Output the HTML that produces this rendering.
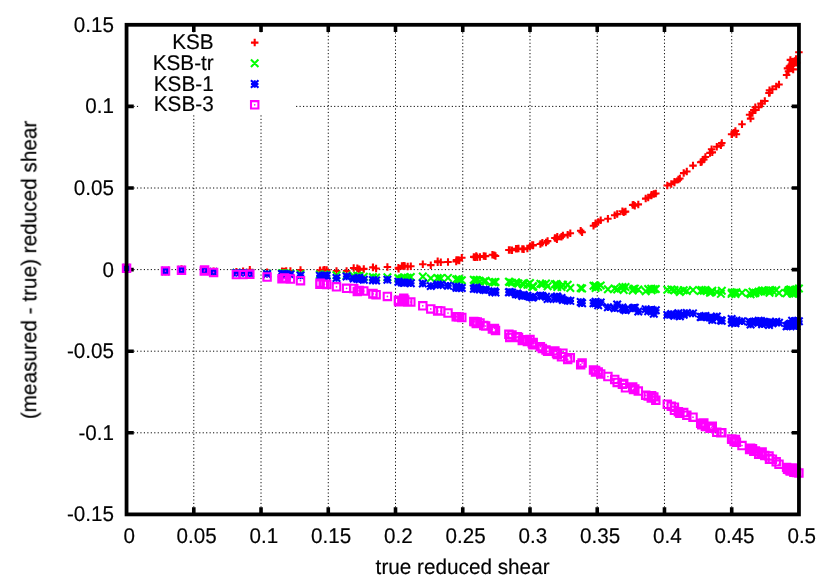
<!DOCTYPE html>
<html><head><meta charset="utf-8"><title>KSB shear</title>
<style>html,body{margin:0;padding:0;background:#fff;}body{width:830px;height:581px;overflow:hidden;font-family:"Liberation Sans",sans-serif;}svg{display:block;}</style>
</head><body>
<svg width="830" height="581" viewBox="0 0 830 581">
<rect width="830" height="581" fill="#fff"/>
<path d="M193.79 514.4V24.8M261.03 514.4V24.8M328.27 514.4V24.8M395.51 514.4V24.8M462.75 514.4V24.8M529.99 514.4V24.8M597.23 514.4V24.8M664.47 514.4V24.8M731.71 514.4V24.8M126.55 432.80H798.95M126.55 351.20H798.95M126.55 269.60H798.95M126.55 188.00H798.95M126.55 106.40H798.95" stroke="#000" stroke-width="1" stroke-dasharray="1.15 2.31" fill="none"/>
<rect x="139" y="32.5" width="156" height="82" fill="#fff"/>
<path d="M193.79 514.4v-7.2M193.79 24.8v7.2M261.03 514.4v-7.2M261.03 24.8v7.2M328.27 514.4v-7.2M328.27 24.8v7.2M395.51 514.4v-7.2M395.51 24.8v7.2M462.75 514.4v-7.2M462.75 24.8v7.2M529.99 514.4v-7.2M529.99 24.8v7.2M597.23 514.4v-7.2M597.23 24.8v7.2M664.47 514.4v-7.2M664.47 24.8v7.2M731.71 514.4v-7.2M731.71 24.8v7.2M126.55 432.80h7.2M798.95 432.80h-7.2M126.55 351.20h7.2M798.95 351.20h-7.2M126.55 269.60h7.2M798.95 269.60h-7.2M126.55 188.00h7.2M798.95 188.00h-7.2M126.55 106.40h7.2M798.95 106.40h-7.2" stroke="#000" stroke-width="3.6" fill="none"/>
<g font-family="Liberation Sans, sans-serif" font-size="21.31px" fill="#000" stroke="#000" stroke-width="0.18" opacity="0.995" style="text-rendering:geometricPrecision">
<text transform="translate(114.00 521.45) scale(0.968 1)" text-anchor="end">-0.15</text>
<text transform="translate(114.00 439.85) scale(0.968 1)" text-anchor="end">-0.1</text>
<text transform="translate(114.00 358.25) scale(0.968 1)" text-anchor="end">-0.05</text>
<text transform="translate(114.00 276.65) scale(0.968 1)" text-anchor="end">0</text>
<text transform="translate(114.00 195.05) scale(0.968 1)" text-anchor="end">0.05</text>
<text transform="translate(114.00 113.45) scale(0.968 1)" text-anchor="end">0.1</text>
<text transform="translate(114.00 31.85) scale(0.968 1)" text-anchor="end">0.15</text>
<text transform="translate(129.35 543.00) scale(0.968 1)" text-anchor="middle">0</text>
<text transform="translate(196.59 543.00) scale(0.968 1)" text-anchor="middle">0.05</text>
<text transform="translate(263.83 543.00) scale(0.968 1)" text-anchor="middle">0.1</text>
<text transform="translate(331.07 543.00) scale(0.968 1)" text-anchor="middle">0.15</text>
<text transform="translate(398.31 543.00) scale(0.968 1)" text-anchor="middle">0.2</text>
<text transform="translate(465.55 543.00) scale(0.968 1)" text-anchor="middle">0.25</text>
<text transform="translate(532.79 543.00) scale(0.968 1)" text-anchor="middle">0.3</text>
<text transform="translate(600.03 543.00) scale(0.968 1)" text-anchor="middle">0.35</text>
<text transform="translate(667.27 543.00) scale(0.968 1)" text-anchor="middle">0.4</text>
<text transform="translate(734.51 543.00) scale(0.968 1)" text-anchor="middle">0.45</text>
<text transform="translate(801.75 543.00) scale(0.968 1)" text-anchor="middle">0.5</text>
<text transform="translate(462.60 574.10) scale(0.973 1)" text-anchor="middle">true reduced shear</text>
<text transform="translate(36.30 269.90) rotate(-90) scale(0.9735 1)" text-anchor="middle">(measured - true) reduced shear</text>
<text transform="translate(213.70 49.20) scale(0.973 1)" text-anchor="end">KSB</text>
<text transform="translate(213.70 69.90) scale(0.973 1)" text-anchor="end">KSB-tr</text>
<text transform="translate(213.70 90.60) scale(0.973 1)" text-anchor="end">KSB-1</text>
<text transform="translate(213.70 111.40) scale(0.973 1)" text-anchor="end">KSB-3</text>
</g>
<path d="M250.95 42.60H258.45M254.70 38.85V46.35M122.80 268.42H130.30M126.55 264.67V272.17M161.75 271.45H169.25M165.50 267.70V275.20M177.75 268.99H185.25M181.50 265.24V272.74M200.55 270.24H208.05M204.30 266.49V273.99M200.85 269.95H208.35M204.60 266.20V273.70M209.85 271.19H217.35M213.60 267.44V274.94M232.65 271.85H240.15M236.40 268.10V275.60M239.35 271.17H246.85M243.10 267.42V274.92M246.05 269.77H253.55M249.80 266.02V273.52M263.35 272.21H270.85M267.10 268.46V275.96M278.25 271.33H285.75M282.00 267.58V275.08M279.31 271.42H286.81M283.06 267.67V275.17M280.86 271.60H288.36M284.61 267.85V275.35M282.45 270.98H289.95M286.20 267.23V274.73M286.65 270.96H294.15M290.40 267.21V274.71M296.75 270.05H304.25M300.50 266.30V273.80M316.15 270.81H323.65M319.90 267.06V274.56M316.39 270.19H323.89M320.14 266.44V273.94M319.55 270.17H327.05M323.30 266.42V273.92M320.67 269.83H328.17M324.42 266.08V273.58M322.95 270.12H330.45M326.70 266.37V273.87M332.75 270.93H340.25M336.50 267.18V274.68M342.85 270.94H350.35M346.60 267.19V274.69M349.95 268.08H357.45M353.70 264.33V271.83M353.56 268.31H361.06M357.31 264.56V272.06M355.38 269.13H362.88M359.13 265.38V272.88M355.85 269.72H363.35M359.60 265.97V273.47M360.05 268.89H367.55M363.80 265.14V272.64M369.16 267.55H376.66M372.91 263.80V271.30M369.25 267.24H376.75M373.00 263.49V270.99M372.35 268.48H379.85M376.10 264.73V272.23M383.65 266.93H391.15M387.40 263.18V270.68M394.65 267.74H402.15M398.40 263.99V271.49M394.84 268.63H402.34M398.59 264.88V272.38M398.15 265.95H405.65M401.90 262.20V269.70M399.99 265.80H407.49M403.74 262.05V269.55M400.95 266.01H408.45M404.70 262.26V269.76M403.95 266.62H411.45M407.70 262.87V270.37M407.05 266.20H414.55M410.80 262.45V269.95M419.05 264.31H426.55M422.80 260.56V268.06M427.05 265.16H434.55M430.80 261.41V268.91M433.91 262.29H441.41M437.66 258.54V266.04M433.95 261.22H441.45M437.70 257.47V264.97M437.05 262.24H444.55M440.80 258.49V265.99M444.25 262.08H451.75M448.00 258.33V265.83M452.45 261.46H459.95M456.20 257.71V265.21M452.71 260.12H460.21M456.46 256.37V263.87M454.78 260.06H462.28M458.53 256.31V263.81M455.55 260.52H463.05M459.30 256.77V264.27M458.05 257.69H465.55M461.80 253.94V261.44M470.05 256.91H477.55M473.80 253.16V260.66M471.29 257.33H478.79M475.04 253.58V261.08M472.52 255.99H480.02M476.27 252.24V259.74M473.55 257.31H481.05M477.30 253.56V261.06M476.25 256.88H483.75M480.00 253.13V260.63M480.00 256.12H487.50M483.75 252.37V259.87M481.85 256.16H489.35M485.60 252.41V259.91M488.65 254.82H496.15M492.40 251.07V258.57M490.67 255.21H498.17M494.42 251.46V258.96M491.75 256.07H499.25M495.50 252.32V259.82M505.15 249.97H512.65M508.90 246.22V253.72M506.01 249.95H513.51M509.76 246.20V253.70M508.25 250.32H515.75M512.00 246.57V254.07M512.25 248.80H519.75M516.00 245.05V252.55M513.45 248.81H520.95M517.20 245.06V252.56M514.73 248.45H522.23M518.48 244.70V252.20M518.55 248.97H526.05M522.30 245.22V252.72M519.22 249.06H526.72M522.97 245.31V252.81M519.95 249.20H527.45M523.70 245.45V252.95M523.65 248.40H531.15M527.40 244.65V252.15M526.23 246.17H533.73M529.98 242.42V249.92M528.45 245.06H535.95M532.20 241.31V248.81M529.16 245.51H536.66M532.91 241.76V249.26M529.45 245.10H536.95M533.20 241.35V248.85M536.65 244.00H544.15M540.40 240.25V247.75M538.61 242.78H546.11M542.36 239.03V246.53M542.25 242.60H549.75M546.00 238.85V246.35M543.85 241.10H551.35M547.60 237.35V244.85M551.15 238.00H558.65M554.90 234.25V241.75M552.73 238.33H560.23M556.48 234.58V242.08M553.16 239.18H560.66M556.91 235.43V242.93M553.55 236.80H561.05M557.30 233.05V240.55M557.75 236.80H565.25M561.50 233.05V240.55M559.15 235.40H566.65M562.90 231.65V239.15M563.95 234.70H571.45M567.70 230.95V238.45M566.55 233.30H574.05M570.30 229.55V237.05M576.95 230.80H584.45M580.70 227.05V234.55M578.35 232.30H585.85M582.10 228.55V236.05M589.75 225.70H597.25M593.50 221.95V229.45M591.75 224.00H599.25M595.50 220.25V227.75M591.86 223.31H599.36M595.61 219.56V227.06M594.45 221.90H601.95M598.20 218.15V225.65M596.95 220.30H604.45M600.70 216.55V224.05M604.15 218.80H611.65M607.90 215.05V222.55M610.95 215.30H618.45M614.70 211.55V219.05M613.45 214.10H620.95M617.20 210.35V217.85M618.65 211.20H626.15M622.40 207.45V214.95M619.95 212.14H627.45M623.70 208.39V215.89M621.75 211.60H629.25M625.50 207.85V215.35M628.95 205.00H636.45M632.70 201.25V208.75M629.77 204.72H637.27M633.52 200.97V208.47M631.05 205.80H638.55M634.80 202.05V209.55M634.55 204.40H642.05M638.30 200.65V208.15M641.95 198.60H649.45M645.70 194.85V202.35M644.45 197.60H651.95M648.20 193.85V201.35M647.55 195.50H655.05M651.30 191.75V199.25M647.87 194.75H655.37M651.62 191.00V198.50M650.05 194.10H657.55M653.80 190.35V197.85M652.05 193.50H659.55M655.80 189.75V197.25M663.55 185.50H671.05M667.30 181.75V189.25M667.55 183.90H675.05M671.30 180.15V187.65M670.65 182.40H678.15M674.40 178.65V186.15M670.74 181.64H678.24M674.49 177.89V185.39M674.65 179.60H682.15M678.40 175.85V183.35M676.09 178.57H683.59M679.84 174.82V182.32M679.95 173.10H687.45M683.70 169.35V176.85M683.05 171.50H690.55M686.80 167.75V175.25M689.25 165.60H696.75M693.00 161.85V169.35M696.95 162.20H704.45M700.70 158.45V165.95M698.01 161.82H705.51M701.76 158.07V165.57M700.05 159.50H707.55M703.80 155.75V163.25M701.65 157.00H709.15M705.40 153.25V160.75M706.25 152.90H713.75M710.00 149.15V156.65M707.85 149.20H715.35M711.60 145.45V152.95M708.54 152.37H716.04M712.29 148.62V156.12M713.05 146.80H720.55M716.80 143.05V150.55M717.15 145.20H724.65M720.90 141.45V148.95M718.05 143.00H725.55M721.80 139.25V146.75M727.85 134.20H735.35M731.60 130.45V137.95M728.21 134.25H735.71M731.96 130.50V138.00M730.35 132.80H737.85M734.10 129.05V136.55M731.65 130.90H739.15M735.40 127.15V134.65M732.65 134.20H740.15M736.40 130.45V137.95M738.25 124.30H745.75M742.00 120.55V128.05M745.85 114.80H753.35M749.60 111.05V118.55M746.85 118.60H754.35M750.60 114.85V122.35M748.75 112.90H756.25M752.50 109.15V116.65M750.05 110.10H757.55M753.80 106.35V113.85M751.55 107.30H759.05M755.30 103.55V111.05M751.73 110.04H759.23M755.48 106.29V113.79M754.95 107.30H762.45M758.70 103.55V111.05M757.25 103.50H764.75M761.00 99.75V107.25M758.38 103.45H765.88M762.13 99.70V107.20M761.05 101.00H768.55M764.80 97.25V104.75M765.25 93.00H772.75M769.00 89.25V96.75M765.75 90.20H773.25M769.50 86.45V93.95M765.96 92.80H773.46M769.71 89.05V96.55M768.65 89.30H776.15M772.40 85.55V93.05M772.45 86.40H779.95M776.20 82.65V90.15M775.25 84.50H782.75M779.00 80.75V88.25M782.85 75.00H790.35M786.60 71.25V78.75M783.75 68.40H791.25M787.50 64.65V72.15M784.75 71.30H792.25M788.50 67.55V75.05M785.65 66.50H793.15M789.40 62.75V70.25M786.42 67.27H793.92M790.17 63.52V71.02M786.60 67.77H794.10M790.35 64.02V71.52M786.65 59.90H794.15M790.40 56.15V63.65M787.55 64.60H795.05M791.30 60.85V68.35M788.40 63.78H795.90M792.15 60.03V67.53M788.55 61.80H796.05M792.30 58.05V65.55M789.45 69.40H796.95M793.20 65.65V73.15M790.10 63.35H797.60M793.85 59.60V67.10M791.35 62.70H798.85M795.10 58.95V66.45M791.57 60.74H799.07M795.32 56.99V64.49M792.25 58.90H799.75M796.00 55.15V62.65M792.80 62.79H800.30M796.55 59.04V66.54M795.15 52.30H802.65M798.90 48.55V56.05" stroke="#ff0000" stroke-width="2.08" fill="none"/>
<path d="M250.95 59.55L258.45 67.05M250.95 67.05L258.45 59.55M122.80 264.36L130.30 271.86M122.80 271.86L130.30 264.36M161.75 267.32L169.25 274.82M161.75 274.82L169.25 267.32M177.75 266.16L185.25 273.66M177.75 273.66L185.25 266.16M200.55 266.73L208.05 274.23M200.55 274.23L208.05 266.73M200.85 266.92L208.35 274.42M200.85 274.42L208.35 266.92M209.85 268.18L217.35 275.68M209.85 275.68L217.35 268.18M232.65 269.00L240.15 276.50M232.65 276.50L240.15 269.00M239.35 269.34L246.85 276.84M239.35 276.84L246.85 269.34M246.05 269.54L253.55 277.04M246.05 277.04L253.55 269.54M263.35 270.11L270.85 277.61M263.35 277.61L270.85 270.11M278.25 269.57L285.75 277.07M278.25 277.07L285.75 269.57M279.31 269.82L286.81 277.32M279.31 277.32L286.81 269.82M280.86 269.62L288.36 277.12M280.86 277.12L288.36 269.62M282.45 269.63L289.95 277.13M282.45 277.13L289.95 269.63M286.65 270.06L294.15 277.56M286.65 277.56L294.15 270.06M296.75 270.27L304.25 277.77M296.75 277.77L304.25 270.27M316.15 270.86L323.65 278.36M316.15 278.36L323.65 270.86M316.39 271.17L323.89 278.67M316.39 278.67L323.89 271.17M319.55 271.50L327.05 279.00M319.55 279.00L327.05 271.50M320.67 270.84L328.17 278.34M320.67 278.34L328.17 270.84M322.95 271.21L330.45 278.71M322.95 278.71L330.45 271.21M332.75 271.56L340.25 279.06M332.75 279.06L340.25 271.56M342.85 271.85L350.35 279.35M342.85 279.35L350.35 271.85M349.95 272.32L357.45 279.82M349.95 279.82L357.45 272.32M353.56 272.05L361.06 279.55M353.56 279.55L361.06 272.05M355.38 272.23L362.88 279.73M355.38 279.73L362.88 272.23M355.85 272.16L363.35 279.66M355.85 279.66L363.35 272.16M360.05 273.06L367.55 280.56M360.05 280.56L367.55 273.06M369.16 273.26L376.66 280.76M369.16 280.76L376.66 273.26M369.25 273.53L376.75 281.03M369.25 281.03L376.75 273.53M372.35 273.83L379.85 281.33M372.35 281.33L379.85 273.83M383.65 273.48L391.15 280.98M383.65 280.98L391.15 273.48M394.65 274.19L402.15 281.69M394.65 281.69L402.15 274.19M394.84 274.79L402.34 282.29M394.84 282.29L402.34 274.79M398.15 274.70L405.65 282.20M398.15 282.20L405.65 274.70M399.99 273.66L407.49 281.16M399.99 281.16L407.49 273.66M400.95 273.66L408.45 281.16M400.95 281.16L408.45 273.66M403.95 274.01L411.45 281.51M403.95 281.51L411.45 274.01M407.05 273.27L414.55 280.77M407.05 280.77L414.55 273.27M419.05 272.85L426.55 280.35M419.05 280.35L426.55 272.85M427.05 274.49L434.55 281.99M427.05 281.99L434.55 274.49M433.91 274.24L441.41 281.74M433.91 281.74L441.41 274.24M433.95 274.41L441.45 281.91M433.95 281.91L441.45 274.41M437.05 274.54L444.55 282.04M437.05 282.04L444.55 274.54M444.25 274.12L451.75 281.62M444.25 281.62L451.75 274.12M452.45 275.80L459.95 283.30M452.45 283.30L459.95 275.80M452.71 275.74L460.21 283.24M452.71 283.24L460.21 275.74M454.78 275.15L462.28 282.65M454.78 282.65L462.28 275.15M455.55 276.35L463.05 283.85M455.55 283.85L463.05 276.35M458.05 276.59L465.55 284.09M458.05 284.09L465.55 276.59M470.05 275.98L477.55 283.48M470.05 283.48L477.55 275.98M471.29 277.16L478.79 284.66M471.29 284.66L478.79 277.16M472.52 276.36L480.02 283.86M472.52 283.86L480.02 276.36M473.55 276.57L481.05 284.07M473.55 284.07L481.05 276.57M476.25 277.65L483.75 285.15M476.25 285.15L483.75 277.65M480.00 277.85L487.50 285.35M480.00 285.35L487.50 277.85M481.85 277.03L489.35 284.53M481.85 284.53L489.35 277.03M488.65 278.25L496.15 285.75M488.65 285.75L496.15 278.25M490.67 278.57L498.17 286.07M490.67 286.07L498.17 278.57M491.75 278.30L499.25 285.80M491.75 285.80L499.25 278.30M505.15 278.08L512.65 285.58M505.15 285.58L512.65 278.08M506.01 278.27L513.51 285.77M506.01 285.77L513.51 278.27M508.25 278.89L515.75 286.39M508.25 286.39L515.75 278.89M512.25 278.58L519.75 286.08M512.25 286.08L519.75 278.58M513.45 279.63L520.95 287.13M513.45 287.13L520.95 279.63M514.73 279.70L522.23 287.20M514.73 287.20L522.23 279.70M518.55 279.78L526.05 287.28M518.55 287.28L526.05 279.78M519.22 280.39L526.72 287.89M519.22 287.89L526.72 280.39M519.95 280.87L527.45 288.37M519.95 288.37L527.45 280.87M523.65 280.90L531.15 288.40M523.65 288.40L531.15 280.90M526.23 279.31L533.73 286.81M526.23 286.81L533.73 279.31M528.45 282.95L535.95 290.45M528.45 290.45L535.95 282.95M529.16 282.22L536.66 289.72M529.16 289.72L536.66 282.22M529.45 282.94L536.95 290.44M529.45 290.44L536.95 282.94M536.65 279.93L544.15 287.43M536.65 287.43L544.15 279.93M538.61 280.55L546.11 288.05M538.61 288.05L546.11 280.55M542.25 279.68L549.75 287.18M542.25 287.18L549.75 279.68M543.85 282.52L551.35 290.02M543.85 290.02L551.35 282.52M551.15 280.57L558.65 288.07M551.15 288.07L558.65 280.57M552.73 280.14L560.23 287.64M552.73 287.64L560.23 280.14M553.16 281.29L560.66 288.79M553.16 288.79L560.66 281.29M553.55 283.20L561.05 290.70M553.55 290.70L561.05 283.20M557.75 283.15L565.25 290.65M557.75 290.65L565.25 283.15M559.15 281.10L566.65 288.60M559.15 288.60L566.65 281.10M563.95 281.03L571.45 288.53M563.95 288.53L571.45 281.03M566.55 284.20L574.05 291.70M566.55 291.70L574.05 284.20M576.95 284.18L584.45 291.68M576.95 291.68L584.45 284.18M578.35 284.69L585.85 292.19M578.35 292.19L585.85 284.69M589.75 282.04L597.25 289.54M589.75 289.54L597.25 282.04M591.75 281.87L599.25 289.37M591.75 289.37L599.25 281.87M591.86 284.29L599.36 291.79M591.86 291.79L599.36 284.29M594.45 283.21L601.95 290.71M594.45 290.71L601.95 283.21M596.95 281.85L604.45 289.35M596.95 289.35L604.45 281.85M604.15 285.61L611.65 293.11M604.15 293.11L611.65 285.61M610.95 284.85L618.45 292.35M610.95 292.35L618.45 284.85M613.45 285.64L620.95 293.14M613.45 293.14L620.95 285.64M618.65 283.20L626.15 290.70M618.65 290.70L626.15 283.20M619.95 286.24L627.45 293.74M619.95 293.74L627.45 286.24M621.75 283.31L629.25 290.81M621.75 290.81L629.25 283.31M628.95 286.76L636.45 294.26M628.95 294.26L636.45 286.76M629.77 285.24L637.27 292.74M629.77 292.74L637.27 285.24M631.05 284.87L638.55 292.37M631.05 292.37L638.55 284.87M634.55 285.85L642.05 293.35M634.55 293.35L642.05 285.85M641.95 287.60L649.45 295.10M641.95 295.10L649.45 287.60M644.45 285.18L651.95 292.68M644.45 292.68L651.95 285.18M647.55 284.88L655.05 292.38M647.55 292.38L655.05 284.88M647.87 286.45L655.37 293.95M647.87 293.95L655.37 286.45M650.05 285.60L657.55 293.10M650.05 293.10L657.55 285.60M652.05 285.29L659.55 292.79M652.05 292.79L659.55 285.29M663.55 286.02L671.05 293.52M663.55 293.52L671.05 286.02M667.55 285.62L675.05 293.12M667.55 293.12L675.05 285.62M670.65 286.20L678.15 293.70M670.65 293.70L678.15 286.20M670.74 286.63L678.24 294.13M670.74 294.13L678.24 286.63M674.65 286.60L682.15 294.10M674.65 294.10L682.15 286.60M676.09 288.35L683.59 295.85M676.09 295.85L683.59 288.35M679.95 286.54L687.45 294.04M679.95 294.04L687.45 286.54M683.05 287.35L690.55 294.85M683.05 294.85L690.55 287.35M689.25 286.34L696.75 293.84M689.25 293.84L696.75 286.34M696.95 287.38L704.45 294.88M696.95 294.88L704.45 287.38M698.01 286.13L705.51 293.63M698.01 293.63L705.51 286.13M700.05 287.04L707.55 294.54M700.05 294.54L707.55 287.04M701.65 286.15L709.15 293.65M701.65 293.65L709.15 286.15M706.25 288.94L713.75 296.44M706.25 296.44L713.75 288.94M707.85 288.27L715.35 295.77M707.85 295.77L715.35 288.27M708.54 286.91L716.04 294.41M708.54 294.41L716.04 286.91M713.05 288.19L720.55 295.69M713.05 295.69L720.55 288.19M717.15 290.13L724.65 297.63M717.15 297.63L724.65 290.13M718.05 286.99L725.55 294.49M718.05 294.49L725.55 286.99M727.85 290.13L735.35 297.63M727.85 297.63L735.35 290.13M728.21 288.66L735.71 296.16M728.21 296.16L735.71 288.66M730.35 288.99L737.85 296.49M730.35 296.49L737.85 288.99M731.65 290.32L739.15 297.82M731.65 297.82L739.15 290.32M732.65 288.60L740.15 296.10M732.65 296.10L740.15 288.60M738.25 288.89L745.75 296.39M738.25 296.39L745.75 288.89M745.85 289.38L753.35 296.88M745.85 296.88L753.35 289.38M746.85 290.49L754.35 297.99M746.85 297.99L754.35 290.49M748.75 287.98L756.25 295.48M748.75 295.48L756.25 287.98M750.05 289.82L757.55 297.32M750.05 297.32L757.55 289.82M751.55 289.30L759.05 296.80M751.55 296.80L759.05 289.30M751.73 289.03L759.23 296.53M751.73 296.53L759.23 289.03M754.95 288.05L762.45 295.55M754.95 295.55L762.45 288.05M757.25 287.77L764.75 295.27M757.25 295.27L764.75 287.77M758.38 286.62L765.88 294.12M758.38 294.12L765.88 286.62M761.05 286.83L768.55 294.33M761.05 294.33L768.55 286.83M765.25 286.49L772.75 293.99M765.25 293.99L772.75 286.49M765.75 289.05L773.25 296.55M765.75 296.55L773.25 289.05M765.96 287.18L773.46 294.68M765.96 294.68L773.46 287.18M768.65 286.75L776.15 294.25M768.65 294.25L776.15 286.75M772.45 286.33L779.95 293.83M772.45 293.83L779.95 286.33M775.25 289.16L782.75 296.66M775.25 296.66L782.75 289.16M782.85 289.55L790.35 297.05M782.85 297.05L790.35 289.55M783.75 288.49L791.25 295.99M783.75 295.99L791.25 288.49M784.75 286.45L792.25 293.95M784.75 293.95L792.25 286.45M785.65 286.22L793.15 293.72M785.65 293.72L793.15 286.22M786.42 286.46L793.92 293.96M786.42 293.96L793.92 286.46M786.60 287.32L794.10 294.82M786.60 294.82L794.10 287.32M786.65 285.75L794.15 293.25M786.65 293.25L794.15 285.75M787.55 287.22L795.05 294.72M787.55 294.72L795.05 287.22M788.40 286.25L795.90 293.75M788.40 293.75L795.90 286.25M788.55 289.86L796.05 297.36M788.55 297.36L796.05 289.86M789.45 289.90L796.95 297.40M789.45 297.40L796.95 289.90M790.10 287.69L797.60 295.19M790.10 295.19L797.60 287.69M791.35 286.13L798.85 293.63M791.35 293.63L798.85 286.13M791.57 289.86L799.07 297.36M791.57 297.36L799.07 289.86M792.25 286.46L799.75 293.96M792.25 293.96L799.75 286.46M792.80 286.71L800.30 294.21M792.80 294.21L800.30 286.71M795.15 284.86L802.65 292.36M795.15 292.36L802.65 284.86" stroke="#00ff00" stroke-width="2.08" fill="none"/>
<path d="M250.95 84.00H258.45M254.70 80.25V87.75M250.95 80.25L258.45 87.75M250.95 87.75L258.45 80.25M122.80 268.32H130.30M126.55 264.57V272.07M122.80 264.57L130.30 272.07M122.80 272.07L130.30 264.57M161.75 270.98H169.25M165.50 267.23V274.73M161.75 267.23L169.25 274.73M161.75 274.73L169.25 267.23M177.75 270.20H185.25M181.50 266.45V273.95M177.75 266.45L185.25 273.95M177.75 273.95L185.25 266.45M200.55 270.40H208.05M204.30 266.65V274.15M200.55 266.65L208.05 274.15M200.55 274.15L208.05 266.65M200.85 270.65H208.35M204.60 266.90V274.40M200.85 266.90L208.35 274.40M200.85 274.40L208.35 266.90M209.85 271.87H217.35M213.60 268.12V275.62M209.85 268.12L217.35 275.62M209.85 275.62L217.35 268.12M232.65 272.91H240.15M236.40 269.16V276.66M232.65 269.16L240.15 276.66M232.65 276.66L240.15 269.16M239.35 273.04H246.85M243.10 269.29V276.79M239.35 269.29L246.85 276.79M239.35 276.79L246.85 269.29M246.05 273.50H253.55M249.80 269.75V277.25M246.05 269.75L253.55 277.25M246.05 277.25L253.55 269.75M263.35 273.89H270.85M267.10 270.14V277.64M263.35 270.14L270.85 277.64M263.35 277.64L270.85 270.14M278.25 273.96H285.75M282.00 270.21V277.71M278.25 270.21L285.75 277.71M278.25 277.71L285.75 270.21M279.31 274.15H286.81M283.06 270.40V277.90M279.31 270.40L286.81 277.90M279.31 277.90L286.81 270.40M280.86 274.11H288.36M284.61 270.36V277.86M280.86 270.36L288.36 277.86M280.86 277.86L288.36 270.36M282.45 274.37H289.95M286.20 270.62V278.12M282.45 270.62L289.95 278.12M282.45 278.12L289.95 270.62M286.65 274.54H294.15M290.40 270.79V278.29M286.65 270.79L294.15 278.29M286.65 278.29L294.15 270.79M296.75 275.46H304.25M300.50 271.71V279.21M296.75 271.71L304.25 279.21M296.75 279.21L304.25 271.71M316.15 275.80H323.65M319.90 272.05V279.55M316.15 272.05L323.65 279.55M316.15 279.55L323.65 272.05M316.39 275.91H323.89M320.14 272.16V279.66M316.39 272.16L323.89 279.66M316.39 279.66L323.89 272.16M319.55 276.31H327.05M323.30 272.56V280.06M319.55 272.56L327.05 280.06M319.55 280.06L327.05 272.56M320.67 275.57H328.17M324.42 271.82V279.32M320.67 271.82L328.17 279.32M320.67 279.32L328.17 271.82M322.95 275.73H330.45M326.70 271.98V279.48M322.95 271.98L330.45 279.48M322.95 279.48L330.45 271.98M332.75 278.07H340.25M336.50 274.32V281.82M332.75 274.32L340.25 281.82M332.75 281.82L340.25 274.32M342.85 276.57H350.35M346.60 272.82V280.32M342.85 272.82L350.35 280.32M342.85 280.32L350.35 272.82M349.95 278.40H357.45M353.70 274.65V282.15M349.95 274.65L357.45 282.15M349.95 282.15L357.45 274.65M353.56 278.66H361.06M357.31 274.91V282.41M353.56 274.91L361.06 282.41M353.56 282.41L361.06 274.91M355.38 277.79H362.88M359.13 274.04V281.54M355.38 274.04L362.88 281.54M355.38 281.54L362.88 274.04M355.85 279.26H363.35M359.60 275.51V283.01M355.85 275.51L363.35 283.01M355.85 283.01L363.35 275.51M360.05 279.77H367.55M363.80 276.02V283.52M360.05 276.02L367.55 283.52M360.05 283.52L367.55 276.02M369.16 280.00H376.66M372.91 276.25V283.75M369.16 276.25L376.66 283.75M369.16 283.75L376.66 276.25M369.25 280.20H376.75M373.00 276.45V283.95M369.25 276.45L376.75 283.95M369.25 283.95L376.75 276.45M372.35 280.53H379.85M376.10 276.78V284.28M372.35 276.78L379.85 284.28M372.35 284.28L379.85 276.78M383.65 279.85H391.15M387.40 276.10V283.60M383.65 276.10L391.15 283.60M383.65 283.60L391.15 276.10M394.65 281.67H402.15M398.40 277.92V285.42M394.65 277.92L402.15 285.42M394.65 285.42L402.15 277.92M394.84 281.65H402.34M398.59 277.90V285.40M394.84 277.90L402.34 285.40M394.84 285.40L402.34 277.90M398.15 282.58H405.65M401.90 278.83V286.33M398.15 278.83L405.65 286.33M398.15 286.33L405.65 278.83M399.99 282.72H407.49M403.74 278.97V286.47M399.99 278.97L407.49 286.47M399.99 286.47L407.49 278.97M400.95 282.85H408.45M404.70 279.10V286.60M400.95 279.10L408.45 286.60M400.95 286.60L408.45 279.10M403.95 282.59H411.45M407.70 278.84V286.34M403.95 278.84L411.45 286.34M403.95 286.34L411.45 278.84M407.05 283.30H414.55M410.80 279.55V287.05M407.05 279.55L414.55 287.05M407.05 287.05L414.55 279.55M419.05 283.53H426.55M422.80 279.78V287.28M419.05 279.78L426.55 287.28M419.05 287.28L426.55 279.78M427.05 286.05H434.55M430.80 282.30V289.80M427.05 282.30L434.55 289.80M427.05 289.80L434.55 282.30M433.91 284.97H441.41M437.66 281.22V288.72M433.91 281.22L441.41 288.72M433.91 288.72L441.41 281.22M433.95 284.61H441.45M437.70 280.86V288.36M433.95 280.86L441.45 288.36M433.95 288.36L441.45 280.86M437.05 284.84H444.55M440.80 281.09V288.59M437.05 281.09L444.55 288.59M437.05 288.59L444.55 281.09M444.25 285.65H451.75M448.00 281.90V289.40M444.25 281.90L451.75 289.40M444.25 289.40L451.75 281.90M452.45 286.46H459.95M456.20 282.71V290.21M452.45 282.71L459.95 290.21M452.45 290.21L459.95 282.71M452.71 287.81H460.21M456.46 284.06V291.56M452.71 284.06L460.21 291.56M452.71 291.56L460.21 284.06M454.78 287.63H462.28M458.53 283.88V291.38M454.78 283.88L462.28 291.38M454.78 291.38L462.28 283.88M455.55 287.84H463.05M459.30 284.09V291.59M455.55 284.09L463.05 291.59M455.55 291.59L463.05 284.09M458.05 287.97H465.55M461.80 284.22V291.72M458.05 284.22L465.55 291.72M458.05 291.72L465.55 284.22M470.05 288.66H477.55M473.80 284.91V292.41M470.05 284.91L477.55 292.41M470.05 292.41L477.55 284.91M471.29 288.38H478.79M475.04 284.63V292.13M471.29 284.63L478.79 292.13M471.29 292.13L478.79 284.63M472.52 287.57H480.02M476.27 283.82V291.32M472.52 283.82L480.02 291.32M472.52 291.32L480.02 283.82M473.55 289.09H481.05M477.30 285.34V292.84M473.55 285.34L481.05 292.84M473.55 292.84L481.05 285.34M476.25 289.47H483.75M480.00 285.72V293.22M476.25 285.72L483.75 293.22M476.25 293.22L483.75 285.72M480.00 289.68H487.50M483.75 285.93V293.43M480.00 285.93L487.50 293.43M480.00 293.43L487.50 285.93M481.85 290.06H489.35M485.60 286.31V293.81M481.85 286.31L489.35 293.81M481.85 293.81L489.35 286.31M488.65 291.99H496.15M492.40 288.24V295.74M488.65 288.24L496.15 295.74M488.65 295.74L496.15 288.24M490.67 291.34H498.17M494.42 287.59V295.09M490.67 287.59L498.17 295.09M490.67 295.09L498.17 287.59M491.75 292.59H499.25M495.50 288.84V296.34M491.75 288.84L499.25 296.34M491.75 296.34L499.25 288.84M505.15 292.32H512.65M508.90 288.57V296.07M505.15 288.57L512.65 296.07M505.15 296.07L512.65 288.57M506.01 292.04H513.51M509.76 288.29V295.79M506.01 288.29L513.51 295.79M506.01 295.79L513.51 288.29M508.25 292.48H515.75M512.00 288.73V296.23M508.25 288.73L515.75 296.23M508.25 296.23L515.75 288.73M512.25 294.15H519.75M516.00 290.40V297.90M512.25 290.40L519.75 297.90M512.25 297.90L519.75 290.40M513.45 293.46H520.95M517.20 289.71V297.21M513.45 289.71L520.95 297.21M513.45 297.21L520.95 289.71M514.73 294.68H522.23M518.48 290.93V298.43M514.73 290.93L522.23 298.43M514.73 298.43L522.23 290.93M518.55 295.91H526.05M522.30 292.16V299.66M518.55 292.16L526.05 299.66M518.55 299.66L526.05 292.16M519.22 295.18H526.72M522.97 291.43V298.93M519.22 291.43L526.72 298.93M519.22 298.93L526.72 291.43M519.95 295.08H527.45M523.70 291.33V298.83M519.95 291.33L527.45 298.83M519.95 298.83L527.45 291.33M523.65 295.65H531.15M527.40 291.90V299.40M523.65 291.90L531.15 299.40M523.65 299.40L531.15 291.90M526.23 296.88H533.73M529.98 293.13V300.63M526.23 293.13L533.73 300.63M526.23 300.63L533.73 293.13M528.45 297.53H535.95M532.20 293.78V301.28M528.45 293.78L535.95 301.28M528.45 301.28L535.95 293.78M529.16 296.95H536.66M532.91 293.20V300.70M529.16 293.20L536.66 300.70M529.16 300.70L536.66 293.20M529.45 297.10H536.95M533.20 293.35V300.85M529.45 293.35L536.95 300.85M529.45 300.85L536.95 293.35M536.65 295.44H544.15M540.40 291.69V299.19M536.65 291.69L544.15 299.19M536.65 299.19L544.15 291.69M538.61 295.90H546.11M542.36 292.15V299.65M538.61 292.15L546.11 299.65M538.61 299.65L546.11 292.15M542.25 296.66H549.75M546.00 292.91V300.41M542.25 292.91L549.75 300.41M542.25 300.41L549.75 292.91M543.85 298.98H551.35M547.60 295.23V302.73M543.85 295.23L551.35 302.73M543.85 302.73L551.35 295.23M551.15 297.58H558.65M554.90 293.83V301.33M551.15 293.83L558.65 301.33M551.15 301.33L558.65 293.83M552.73 298.89H560.23M556.48 295.14V302.64M552.73 295.14L560.23 302.64M552.73 302.64L560.23 295.14M553.16 296.43H560.66M556.91 292.68V300.18M553.16 292.68L560.66 300.18M553.16 300.18L560.66 292.68M553.55 296.68H561.05M557.30 292.93V300.43M553.55 292.93L561.05 300.43M553.55 300.43L561.05 292.93M557.75 298.04H565.25M561.50 294.29V301.79M557.75 294.29L565.25 301.79M557.75 301.79L565.25 294.29M559.15 300.00H566.65M562.90 296.25V303.75M559.15 296.25L566.65 303.75M559.15 303.75L566.65 296.25M563.95 300.61H571.45M567.70 296.86V304.36M563.95 296.86L571.45 304.36M563.95 304.36L571.45 296.86M566.55 300.87H574.05M570.30 297.12V304.62M566.55 297.12L574.05 304.62M566.55 304.62L574.05 297.12M576.95 302.08H584.45M580.70 298.33V305.83M576.95 298.33L584.45 305.83M576.95 305.83L584.45 298.33M578.35 303.20H585.85M582.10 299.45V306.95M578.35 299.45L585.85 306.95M578.35 306.95L585.85 299.45M589.75 303.27H597.25M593.50 299.52V307.02M589.75 299.52L597.25 307.02M589.75 307.02L597.25 299.52M591.75 303.33H599.25M595.50 299.58V307.08M591.75 299.58L599.25 307.08M591.75 307.08L599.25 299.58M591.86 301.78H599.36M595.61 298.03V305.53M591.86 298.03L599.36 305.53M591.86 305.53L599.36 298.03M594.45 305.32H601.95M598.20 301.57V309.07M594.45 301.57L601.95 309.07M594.45 309.07L601.95 301.57M596.95 302.39H604.45M600.70 298.64V306.14M596.95 298.64L604.45 306.14M596.95 306.14L604.45 298.64M604.15 307.26H611.65M607.90 303.51V311.01M604.15 303.51L611.65 311.01M604.15 311.01L611.65 303.51M610.95 308.29H618.45M614.70 304.54V312.04M610.95 304.54L618.45 312.04M610.95 312.04L618.45 304.54M613.45 304.58H620.95M617.20 300.83V308.33M613.45 300.83L620.95 308.33M613.45 308.33L620.95 300.83M618.65 307.40H626.15M622.40 303.65V311.15M618.65 303.65L626.15 311.15M618.65 311.15L626.15 303.65M619.95 309.22H627.45M623.70 305.47V312.97M619.95 305.47L627.45 312.97M619.95 312.97L627.45 305.47M621.75 310.15H629.25M625.50 306.40V313.90M621.75 306.40L629.25 313.90M621.75 313.90L629.25 306.40M628.95 308.61H636.45M632.70 304.86V312.36M628.95 304.86L636.45 312.36M628.95 312.36L636.45 304.86M629.77 307.89H637.27M633.52 304.14V311.64M629.77 304.14L637.27 311.64M629.77 311.64L637.27 304.14M631.05 307.77H638.55M634.80 304.02V311.52M631.05 304.02L638.55 311.52M631.05 311.52L638.55 304.02M634.55 311.52H642.05M638.30 307.77V315.27M634.55 307.77L642.05 315.27M634.55 315.27L642.05 307.77M641.95 309.29H649.45M645.70 305.54V313.04M641.95 305.54L649.45 313.04M641.95 313.04L649.45 305.54M644.45 311.31H651.95M648.20 307.56V315.06M644.45 307.56L651.95 315.06M644.45 315.06L651.95 307.56M647.55 309.75H655.05M651.30 306.00V313.50M647.55 306.00L655.05 313.50M647.55 313.50L655.05 306.00M647.87 311.50H655.37M651.62 307.75V315.25M647.87 307.75L655.37 315.25M647.87 315.25L655.37 307.75M650.05 313.68H657.55M653.80 309.93V317.43M650.05 309.93L657.55 317.43M650.05 317.43L657.55 309.93M652.05 310.26H659.55M655.80 306.51V314.01M652.05 306.51L659.55 314.01M652.05 314.01L659.55 306.51M663.55 314.94H671.05M667.30 311.19V318.69M663.55 311.19L671.05 318.69M663.55 318.69L671.05 311.19M667.55 313.91H675.05M671.30 310.16V317.66M667.55 310.16L675.05 317.66M667.55 317.66L675.05 310.16M670.65 315.87H678.15M674.40 312.12V319.62M670.65 312.12L678.15 319.62M670.65 319.62L678.15 312.12M670.74 315.05H678.24M674.49 311.30V318.80M670.74 311.30L678.24 318.80M670.74 318.80L678.24 311.30M674.65 313.26H682.15M678.40 309.51V317.01M674.65 309.51L682.15 317.01M674.65 317.01L682.15 309.51M676.09 316.37H683.59M679.84 312.62V320.12M676.09 312.62L683.59 320.12M676.09 320.12L683.59 312.62M679.95 314.78H687.45M683.70 311.03V318.53M679.95 311.03L687.45 318.53M679.95 318.53L687.45 311.03M683.05 312.92H690.55M686.80 309.17V316.67M683.05 309.17L690.55 316.67M683.05 316.67L690.55 309.17M689.25 313.38H696.75M693.00 309.63V317.13M689.25 309.63L696.75 317.13M689.25 317.13L696.75 309.63M696.95 317.05H704.45M700.70 313.30V320.80M696.95 313.30L704.45 320.80M696.95 320.80L704.45 313.30M698.01 316.99H705.51M701.76 313.24V320.74M698.01 313.24L705.51 320.74M698.01 320.74L705.51 313.24M700.05 316.56H707.55M703.80 312.81V320.31M700.05 312.81L707.55 320.31M700.05 320.31L707.55 312.81M701.65 316.03H709.15M705.40 312.28V319.78M701.65 312.28L709.15 319.78M701.65 319.78L709.15 312.28M706.25 317.48H713.75M710.00 313.73V321.23M706.25 313.73L713.75 321.23M706.25 321.23L713.75 313.73M707.85 317.53H715.35M711.60 313.78V321.28M707.85 313.78L715.35 321.28M707.85 321.28L715.35 313.78M708.54 319.94H716.04M712.29 316.19V323.69M708.54 316.19L716.04 323.69M708.54 323.69L716.04 316.19M713.05 316.60H720.55M716.80 312.85V320.35M713.05 312.85L720.55 320.35M713.05 320.35L720.55 312.85M717.15 320.34H724.65M720.90 316.59V324.09M717.15 316.59L724.65 324.09M717.15 324.09L724.65 316.59M718.05 320.82H725.55M721.80 317.07V324.57M718.05 317.07L725.55 324.57M718.05 324.57L725.55 317.07M727.85 319.11H735.35M731.60 315.36V322.86M727.85 315.36L735.35 322.86M727.85 322.86L735.35 315.36M728.21 322.78H735.71M731.96 319.03V326.53M728.21 319.03L735.71 326.53M728.21 326.53L735.71 319.03M730.35 322.20H737.85M734.10 318.45V325.95M730.35 318.45L737.85 325.95M730.35 325.95L737.85 318.45M731.65 323.22H739.15M735.40 319.47V326.97M731.65 319.47L739.15 326.97M731.65 326.97L739.15 319.47M732.65 320.53H740.15M736.40 316.78V324.28M732.65 316.78L740.15 324.28M732.65 324.28L740.15 316.78M738.25 321.20H745.75M742.00 317.45V324.95M738.25 317.45L745.75 324.95M738.25 324.95L745.75 317.45M745.85 321.70H753.35M749.60 317.95V325.45M745.85 317.95L753.35 325.45M745.85 325.45L753.35 317.95M746.85 324.47H754.35M750.60 320.72V328.22M746.85 320.72L754.35 328.22M746.85 328.22L754.35 320.72M748.75 322.73H756.25M752.50 318.98V326.48M748.75 318.98L756.25 326.48M748.75 326.48L756.25 318.98M750.05 321.78H757.55M753.80 318.03V325.53M750.05 318.03L757.55 325.53M750.05 325.53L757.55 318.03M751.55 322.16H759.05M755.30 318.41V325.91M751.55 318.41L759.05 325.91M751.55 325.91L759.05 318.41M751.73 321.48H759.23M755.48 317.73V325.23M751.73 317.73L759.23 325.23M751.73 325.23L759.23 317.73M754.95 320.64H762.45M758.70 316.89V324.39M754.95 316.89L762.45 324.39M754.95 324.39L762.45 316.89M757.25 321.00H764.75M761.00 317.25V324.75M757.25 317.25L764.75 324.75M757.25 324.75L764.75 317.25M758.38 324.35H765.88M762.13 320.60V328.10M758.38 320.60L765.88 328.10M758.38 328.10L765.88 320.60M761.05 322.03H768.55M764.80 318.28V325.78M761.05 318.28L768.55 325.78M761.05 325.78L768.55 318.28M765.25 325.04H772.75M769.00 321.29V328.79M765.25 321.29L772.75 328.79M765.25 328.79L772.75 321.29M765.75 321.97H773.25M769.50 318.22V325.72M765.75 318.22L773.25 325.72M765.75 325.72L773.25 318.22M765.96 322.05H773.46M769.71 318.30V325.80M765.96 318.30L773.46 325.80M765.96 325.80L773.46 318.30M768.65 323.21H776.15M772.40 319.46V326.96M768.65 319.46L776.15 326.96M768.65 326.96L776.15 319.46M772.45 321.85H779.95M776.20 318.10V325.60M772.45 318.10L779.95 325.60M772.45 325.60L779.95 318.10M775.25 322.73H782.75M779.00 318.98V326.48M775.25 318.98L782.75 326.48M775.25 326.48L782.75 318.98M782.85 326.22H790.35M786.60 322.47V329.97M782.85 322.47L790.35 329.97M782.85 329.97L790.35 322.47M783.75 325.81H791.25M787.50 322.06V329.56M783.75 322.06L791.25 329.56M783.75 329.56L791.25 322.06M784.75 325.39H792.25M788.50 321.64V329.14M784.75 321.64L792.25 329.14M784.75 329.14L792.25 321.64M785.65 324.31H793.15M789.40 320.56V328.06M785.65 320.56L793.15 328.06M785.65 328.06L793.15 320.56M786.42 326.04H793.92M790.17 322.29V329.79M786.42 322.29L793.92 329.79M786.42 329.79L793.92 322.29M786.60 326.21H794.10M790.35 322.46V329.96M786.60 322.46L794.10 329.96M786.60 329.96L794.10 322.46M786.65 323.84H794.15M790.40 320.09V327.59M786.65 320.09L794.15 327.59M786.65 327.59L794.15 320.09M787.55 324.89H795.05M791.30 321.14V328.64M787.55 321.14L795.05 328.64M787.55 328.64L795.05 321.14M788.40 320.86H795.90M792.15 317.11V324.61M788.40 317.11L795.90 324.61M788.40 324.61L795.90 317.11M788.55 324.99H796.05M792.30 321.24V328.74M788.55 321.24L796.05 328.74M788.55 328.74L796.05 321.24M789.45 323.30H796.95M793.20 319.55V327.05M789.45 319.55L796.95 327.05M789.45 327.05L796.95 319.55M790.10 325.13H797.60M793.85 321.38V328.88M790.10 321.38L797.60 328.88M790.10 328.88L797.60 321.38M791.35 324.47H798.85M795.10 320.72V328.22M791.35 320.72L798.85 328.22M791.35 328.22L798.85 320.72M791.57 322.31H799.07M795.32 318.56V326.06M791.57 318.56L799.07 326.06M791.57 326.06L799.07 318.56M792.25 320.87H799.75M796.00 317.12V324.62M792.25 317.12L799.75 324.62M792.25 324.62L799.75 317.12M792.80 326.18H800.30M796.55 322.43V329.93M792.80 322.43L800.30 329.93M792.80 329.93L800.30 322.43M795.15 321.35H802.65M798.90 317.60V325.10M795.15 317.60L802.65 325.10M795.15 325.10L802.65 317.60" stroke="#0000ff" stroke-width="2.08" fill="none"/>
<path d="M251.00 101.10h7.40v7.40h-7.40zM122.85 264.60h7.40v7.40h-7.40zM161.80 267.40h7.40v7.40h-7.40zM177.80 266.50h7.40v7.40h-7.40zM200.60 267.30h7.40v7.40h-7.40zM200.90 266.30h7.40v7.40h-7.40zM209.90 268.70h7.40v7.40h-7.40zM232.70 270.80h7.40v7.40h-7.40zM239.40 270.90h7.40v7.40h-7.40zM246.10 270.60h7.40v7.40h-7.40zM263.40 273.30h7.40v7.40h-7.40zM278.30 275.00h7.40v7.40h-7.40zM279.36 274.96h7.40v7.40h-7.40zM280.91 274.33h7.40v7.40h-7.40zM282.50 275.00h7.40v7.40h-7.40zM286.70 275.30h7.40v7.40h-7.40zM296.80 277.00h7.40v7.40h-7.40zM316.20 280.50h7.40v7.40h-7.40zM316.44 279.48h7.40v7.40h-7.40zM319.60 280.50h7.40v7.40h-7.40zM320.72 280.58h7.40v7.40h-7.40zM323.00 280.80h7.40v7.40h-7.40zM332.80 283.10h7.40v7.40h-7.40zM342.90 284.60h7.40v7.40h-7.40zM350.00 284.80h7.40v7.40h-7.40zM353.61 287.70h7.40v7.40h-7.40zM355.43 286.69h7.40v7.40h-7.40zM355.90 287.30h7.40v7.40h-7.40zM360.10 287.30h7.40v7.40h-7.40zM369.21 290.42h7.40v7.40h-7.40zM369.30 289.80h7.40v7.40h-7.40zM372.40 291.00h7.40v7.40h-7.40zM383.70 292.70h7.40v7.40h-7.40zM394.70 296.50h7.40v7.40h-7.40zM394.89 298.07h7.40v7.40h-7.40zM398.20 296.90h7.40v7.40h-7.40zM400.04 294.54h7.40v7.40h-7.40zM401.00 296.37h7.40v7.40h-7.40zM404.00 298.20h7.40v7.40h-7.40zM407.10 298.30h7.40v7.40h-7.40zM419.10 302.10h7.40v7.40h-7.40zM427.10 305.20h7.40v7.40h-7.40zM433.96 307.00h7.40v7.40h-7.40zM434.00 307.20h7.40v7.40h-7.40zM437.10 307.30h7.40v7.40h-7.40zM444.30 309.30h7.40v7.40h-7.40zM452.50 313.00h7.40v7.40h-7.40zM452.76 312.94h7.40v7.40h-7.40zM454.83 313.43h7.40v7.40h-7.40zM455.60 313.30h7.40v7.40h-7.40zM458.10 313.80h7.40v7.40h-7.40zM470.10 317.80h7.40v7.40h-7.40zM471.34 318.13h7.40v7.40h-7.40zM472.57 319.74h7.40v7.40h-7.40zM473.60 318.30h7.40v7.40h-7.40zM476.30 319.30h7.40v7.40h-7.40zM480.05 321.90h7.40v7.40h-7.40zM481.90 322.30h7.40v7.40h-7.40zM488.70 325.40h7.40v7.40h-7.40zM490.72 324.80h7.40v7.40h-7.40zM491.80 326.90h7.40v7.40h-7.40zM505.20 330.60h7.40v7.40h-7.40zM506.06 333.69h7.40v7.40h-7.40zM508.30 331.30h7.40v7.40h-7.40zM512.30 333.78h7.40v7.40h-7.40zM513.50 333.10h7.40v7.40h-7.40zM514.78 333.73h7.40v7.40h-7.40zM518.60 336.80h7.40v7.40h-7.40zM519.27 335.97h7.40v7.40h-7.40zM520.00 336.12h7.40v7.40h-7.40zM523.70 337.75h7.40v7.40h-7.40zM526.28 335.84h7.40v7.40h-7.40zM528.50 339.19h7.40v7.40h-7.40zM529.21 341.12h7.40v7.40h-7.40zM529.50 338.84h7.40v7.40h-7.40zM536.70 342.96h7.40v7.40h-7.40zM538.66 344.89h7.40v7.40h-7.40zM542.30 346.28h7.40v7.40h-7.40zM543.90 347.64h7.40v7.40h-7.40zM551.20 347.18h7.40v7.40h-7.40zM552.78 349.33h7.40v7.40h-7.40zM553.21 349.53h7.40v7.40h-7.40zM553.60 350.75h7.40v7.40h-7.40zM557.80 353.06h7.40v7.40h-7.40zM559.20 349.51h7.40v7.40h-7.40zM564.00 355.73h7.40v7.40h-7.40zM566.60 354.07h7.40v7.40h-7.40zM577.00 360.99h7.40v7.40h-7.40zM578.40 359.22h7.40v7.40h-7.40zM589.80 366.20h7.40v7.40h-7.40zM591.80 368.24h7.40v7.40h-7.40zM591.91 366.81h7.40v7.40h-7.40zM594.50 368.37h7.40v7.40h-7.40zM597.00 370.19h7.40v7.40h-7.40zM604.20 372.81h7.40v7.40h-7.40zM611.00 375.75h7.40v7.40h-7.40zM613.50 378.72h7.40v7.40h-7.40zM618.70 380.66h7.40v7.40h-7.40zM620.00 379.81h7.40v7.40h-7.40zM621.80 384.02h7.40v7.40h-7.40zM629.00 383.21h7.40v7.40h-7.40zM629.82 385.87h7.40v7.40h-7.40zM631.10 385.20h7.40v7.40h-7.40zM634.60 387.34h7.40v7.40h-7.40zM642.00 391.60h7.40v7.40h-7.40zM644.50 392.30h7.40v7.40h-7.40zM647.60 394.30h7.40v7.40h-7.40zM647.92 392.08h7.40v7.40h-7.40zM650.10 393.18h7.40v7.40h-7.40zM652.10 396.51h7.40v7.40h-7.40zM663.60 400.54h7.40v7.40h-7.40zM667.60 402.50h7.40v7.40h-7.40zM670.70 403.58h7.40v7.40h-7.40zM670.79 406.63h7.40v7.40h-7.40zM674.70 408.05h7.40v7.40h-7.40zM676.14 409.59h7.40v7.40h-7.40zM680.00 408.91h7.40v7.40h-7.40zM683.10 411.53h7.40v7.40h-7.40zM689.30 413.46h7.40v7.40h-7.40zM697.00 419.53h7.40v7.40h-7.40zM698.06 420.99h7.40v7.40h-7.40zM700.10 419.32h7.40v7.40h-7.40zM701.70 422.84h7.40v7.40h-7.40zM706.30 424.61h7.40v7.40h-7.40zM707.90 424.16h7.40v7.40h-7.40zM708.59 422.54h7.40v7.40h-7.40zM713.10 428.61h7.40v7.40h-7.40zM717.20 429.10h7.40v7.40h-7.40zM718.10 429.01h7.40v7.40h-7.40zM727.90 435.24h7.40v7.40h-7.40zM728.26 435.44h7.40v7.40h-7.40zM730.40 437.76h7.40v7.40h-7.40zM731.70 435.67h7.40v7.40h-7.40zM732.70 438.57h7.40v7.40h-7.40zM738.30 441.89h7.40v7.40h-7.40zM745.90 445.84h7.40v7.40h-7.40zM746.90 444.57h7.40v7.40h-7.40zM748.80 444.95h7.40v7.40h-7.40zM750.10 447.57h7.40v7.40h-7.40zM751.60 447.36h7.40v7.40h-7.40zM751.78 447.46h7.40v7.40h-7.40zM755.00 450.58h7.40v7.40h-7.40zM757.30 449.93h7.40v7.40h-7.40zM758.43 448.29h7.40v7.40h-7.40zM761.10 451.79h7.40v7.40h-7.40zM765.30 452.37h7.40v7.40h-7.40zM765.80 455.57h7.40v7.40h-7.40zM766.01 455.13h7.40v7.40h-7.40zM768.70 455.52h7.40v7.40h-7.40zM772.50 458.16h7.40v7.40h-7.40zM775.30 460.55h7.40v7.40h-7.40zM782.90 463.67h7.40v7.40h-7.40zM783.80 465.51h7.40v7.40h-7.40zM784.80 464.50h7.40v7.40h-7.40zM785.70 466.18h7.40v7.40h-7.40zM786.47 467.08h7.40v7.40h-7.40zM786.65 467.30h7.40v7.40h-7.40zM786.70 464.82h7.40v7.40h-7.40zM787.60 466.99h7.40v7.40h-7.40zM788.45 464.40h7.40v7.40h-7.40zM788.60 465.35h7.40v7.40h-7.40zM789.50 464.85h7.40v7.40h-7.40zM790.15 468.52h7.40v7.40h-7.40zM791.40 466.63h7.40v7.40h-7.40zM791.62 468.08h7.40v7.40h-7.40zM792.30 468.24h7.40v7.40h-7.40zM792.85 468.70h7.40v7.40h-7.40zM795.20 469.30h7.40v7.40h-7.40z" stroke="#ff00ff" stroke-width="2.08" fill="none"/>
<path d="M254.70 104.80h0M126.55 268.30h0M165.50 271.10h0M181.50 270.20h0M204.30 271.00h0M204.60 270.00h0M213.60 272.40h0M236.40 274.50h0M243.10 274.60h0M249.80 274.30h0M267.10 277.00h0M282.00 278.70h0M283.06 278.66h0M284.61 278.03h0M286.20 278.70h0M290.40 279.00h0M300.50 280.70h0M319.90 284.20h0M320.14 283.18h0M323.30 284.20h0M324.42 284.28h0M326.70 284.50h0M336.50 286.80h0M346.60 288.30h0M353.70 288.50h0M357.31 291.40h0M359.13 290.39h0M359.60 291.00h0M363.80 291.00h0M372.91 294.12h0M373.00 293.50h0M376.10 294.70h0M387.40 296.40h0M398.40 300.20h0M398.59 301.77h0M401.90 300.60h0M403.74 298.24h0M404.70 300.07h0M407.70 301.90h0M410.80 302.00h0M422.80 305.80h0M430.80 308.90h0M437.66 310.70h0M437.70 310.90h0M440.80 311.00h0M448.00 313.00h0M456.20 316.70h0M456.46 316.64h0M458.53 317.13h0M459.30 317.00h0M461.80 317.50h0M473.80 321.50h0M475.04 321.83h0M476.27 323.44h0M477.30 322.00h0M480.00 323.00h0M483.75 325.60h0M485.60 326.00h0M492.40 329.10h0M494.42 328.50h0M495.50 330.60h0M508.90 334.30h0M509.76 337.39h0M512.00 335.00h0M516.00 337.48h0M517.20 336.80h0M518.48 337.43h0M522.30 340.50h0M522.97 339.67h0M523.70 339.82h0M527.40 341.45h0M529.98 339.54h0M532.20 342.89h0M532.91 344.82h0M533.20 342.54h0M540.40 346.66h0M542.36 348.59h0M546.00 349.98h0M547.60 351.34h0M554.90 350.88h0M556.48 353.03h0M556.91 353.23h0M557.30 354.45h0M561.50 356.76h0M562.90 353.21h0M567.70 359.43h0M570.30 357.77h0M580.70 364.69h0M582.10 362.92h0M593.50 369.90h0M595.50 371.94h0M595.61 370.51h0M598.20 372.07h0M600.70 373.89h0M607.90 376.51h0M614.70 379.45h0M617.20 382.42h0M622.40 384.36h0M623.70 383.51h0M625.50 387.72h0M632.70 386.91h0M633.52 389.57h0M634.80 388.90h0M638.30 391.04h0M645.70 395.30h0M648.20 396.00h0M651.30 398.00h0M651.62 395.78h0M653.80 396.88h0M655.80 400.21h0M667.30 404.24h0M671.30 406.20h0M674.40 407.28h0M674.49 410.33h0M678.40 411.75h0M679.84 413.29h0M683.70 412.61h0M686.80 415.23h0M693.00 417.16h0M700.70 423.23h0M701.76 424.69h0M703.80 423.02h0M705.40 426.54h0M710.00 428.31h0M711.60 427.86h0M712.29 426.24h0M716.80 432.31h0M720.90 432.80h0M721.80 432.71h0M731.60 438.94h0M731.96 439.14h0M734.10 441.46h0M735.40 439.37h0M736.40 442.27h0M742.00 445.59h0M749.60 449.54h0M750.60 448.27h0M752.50 448.65h0M753.80 451.27h0M755.30 451.06h0M755.48 451.16h0M758.70 454.28h0M761.00 453.63h0M762.13 451.99h0M764.80 455.49h0M769.00 456.07h0M769.50 459.27h0M769.71 458.83h0M772.40 459.22h0M776.20 461.86h0M779.00 464.25h0M786.60 467.37h0M787.50 469.21h0M788.50 468.20h0M789.40 469.88h0M790.17 470.78h0M790.35 471.00h0M790.40 468.52h0M791.30 470.69h0M792.15 468.10h0M792.30 469.05h0M793.20 468.55h0M793.85 472.22h0M795.10 470.33h0M795.32 471.78h0M796.00 471.94h0M796.55 472.40h0M798.90 473.00h0" stroke="#ff00ff" stroke-width="1.7" stroke-linecap="round" fill="none"/>
<rect x="126.55" y="24.8" width="672.40" height="489.60" fill="none" stroke="#000" stroke-width="3.78"/>
</svg>
</body></html>
